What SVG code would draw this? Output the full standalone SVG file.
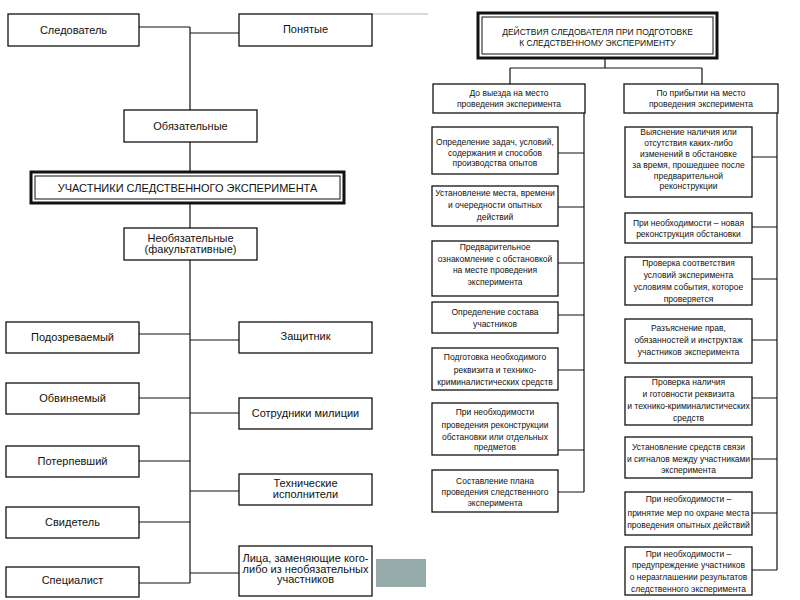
<svg xmlns="http://www.w3.org/2000/svg" width="800" height="600" viewBox="0 0 800 600">
<style>
rect.b{fill:#fff;stroke:#111;stroke-width:1.3}
rect.thick{fill:#fff;stroke:#111;stroke-width:3}
rect.inner{fill:none;stroke:#111;stroke-width:1}
text{font-family:"Liberation Sans",Arial,sans-serif;fill:#111;text-anchor:middle}
.l{font-size:11px}
.r{font-size:8.5px}
#connectors path{fill:none;stroke:#111;stroke-width:1.2}
</style>
<rect width="800" height="600" fill="#fff"/>
<line x1="372" y1="14" x2="428" y2="14" stroke="#b5b5b5" stroke-width="1"/>
<rect x="376" y="559" width="50" height="28" fill="#95acaa"/>

<g id="connectors">
<!-- left -->
<path d="M139,27 H190 M190,33 H239 M190,27 V110 M190,142 V172 M190,203 V228 M190,260 V583"/>
<path d="M139,334 H190 M190,340 H239 M139,398 H190 M190,413 H239 M139,461 H190 M190,491 H239 M139,522 H190 M139,583 H190 M190,573 H239"/>
<!-- right -->
<path d="M605,58 V68 M510,68 H702 M510,68 V84 M702,68 V84"/>
<path d="M584,113 V492 M558,153 H584 M558,207 H584 M558,263 H584 M558,315 H584 M558,370 H584 M558,450 H584 M558,492 H584"/>
<path d="M777,113 V570 M752,157 H777 M752,227 H777 M752,279 H777 M752,340 H777 M752,398 H777 M752,459 H777 M752,513 H777 M752,570 H777"/>
</g>

<g id="sledovatel"><rect class="b" x="8" y="14" width="131" height="32"/><text class="l" x="73.5" y="34">Следователь</text></g>
<g id="ponyatye"><rect class="b" x="239" y="14" width="133" height="32"/><text class="l" x="305.5" y="33">Понятые</text></g>
<g id="obyazatelnye"><rect class="b" x="124" y="110" width="133" height="32"/><text class="l" x="190.5" y="130">Обязательные</text></g>
<g id="uchastniki"><rect class="thick" x="31" y="172" width="313" height="31"/><rect class="inner" x="35" y="176" width="305" height="23"/><text class="l" x="187.5" y="191.5">УЧАСТНИКИ СЛЕДСТВЕННОГО ЭКСПЕРИМЕНТА</text></g>
<g id="neobyazatelnye"><rect class="b" x="124" y="228" width="133" height="32"/><text class="l" x="190.5" y="242">Необязательные</text><text class="l" x="190.5" y="253">(факультативные)</text></g>

<g id="podozrevaemy"><rect class="b" x="6" y="322" width="133" height="31"/><text class="l" x="72.5" y="341">Подозреваемый</text></g>
<g id="obvinyaemy"><rect class="b" x="6" y="383" width="133" height="31"/><text class="l" x="72.5" y="402">Обвиняемый</text></g>
<g id="poterpevshy"><rect class="b" x="6" y="446" width="133" height="31"/><text class="l" x="72.5" y="465">Потерпевший</text></g>
<g id="svidetel"><rect class="b" x="6" y="507" width="133" height="31"/><text class="l" x="72.5" y="526">Свидетель</text></g>
<g id="specialist"><rect class="b" x="6" y="567" width="133" height="30"/><text class="l" x="72.5" y="584">Специалист</text></g>

<g id="zashchitnik"><rect class="b" x="239" y="322" width="133" height="31"/><text class="l" x="305.5" y="340">Защитник</text></g>
<g id="sotrudniki"><rect class="b" x="239" y="398" width="133" height="31"/><text class="l" x="305.5" y="417">Сотрудники милиции</text></g>
<g id="tekhnicheskie"><rect class="b" x="239" y="474" width="133" height="31"/><text class="l" x="305.5" y="487">Технические</text><text class="l" x="305.5" y="498">исполнители</text></g>
<g id="litsa"><rect class="b" x="239" y="546" width="133" height="50"/><text class="l" x="305.5" y="562">Лица, заменяющие кого-</text><text class="l" x="305.5" y="572.5">либо из необязательных</text><text class="l" x="305.5" y="583">участников</text></g>

<g id="title"><rect class="thick" x="478" y="13" width="239" height="45"/><rect class="inner" x="482" y="17" width="231" height="37"/><text class="r" x="597.5" y="35">ДЕЙСТВИЯ СЛЕДОВАТЕЛЯ ПРИ ПОДГОТОВКЕ</text><text class="r" x="597.5" y="46">К СЛЕДСТВЕННОМУ ЭКСПЕРИМЕНТУ</text></g>
<g id="do-vyezda"><rect class="b" x="433" y="84" width="152" height="29"/><text class="r" x="509" y="96">До выезда на место</text><text class="r" x="509" y="107">проведения эксперимента</text></g>
<g id="po-pribytii"><rect class="b" x="624" y="84" width="154" height="29"/><text class="r" x="701" y="96">По прибытии на место</text><text class="r" x="701" y="107">проведения эксперимента</text></g>

<g id="l1"><rect class="b" x="432" y="127" width="126" height="47"/><text class="r" x="495" y="145">Определение задач, условий,</text><text class="r" x="495" y="155.5">содержания и способов</text><text class="r" x="495" y="166">производства опытов</text></g>
<g id="l2"><rect class="b" x="432" y="186" width="126" height="40"/><text class="r" x="495" y="196">Установление места, времени</text><text class="r" x="495" y="208">и очередности опытных</text><text class="r" x="495" y="219.5">действий</text></g>
<g id="l3"><rect class="b" x="432" y="241" width="126" height="55"/><text class="r" x="495" y="250">Предварительное</text><text class="r" x="495" y="261.5">ознакомление с обстановкой</text><text class="r" x="495" y="273">на месте проведения</text><text class="r" x="495" y="285">эксперимента</text></g>
<g id="l4"><rect class="b" x="432" y="302" width="126" height="31"/><text class="r" x="495" y="315">Определение состава</text><text class="r" x="495" y="327">участников</text></g>
<g id="l5"><rect class="b" x="432" y="348" width="126" height="42"/><text class="r" x="495" y="360">Подготовка необходимого</text><text class="r" x="495" y="372.5">реквизита и технико-</text><text class="r" x="495" y="384.5">криминалистических средств</text></g>
<g id="l6"><rect class="b" x="432" y="403" width="126" height="52"/><text class="r" x="495" y="415">При необходимости</text><text class="r" x="495" y="428">проведения реконструкции</text><text class="r" x="495" y="439.5">обстановки или отдельных</text><text class="r" x="495" y="450">предметов</text></g>
<g id="l7"><rect class="b" x="432" y="470" width="126" height="42"/><text class="r" x="495" y="483.5">Составление плана</text><text class="r" x="495" y="495">проведения следственного</text><text class="r" x="495" y="505.5">эксперимента</text></g>

<g id="r1"><rect class="b" x="625" y="127" width="127" height="70"/><text class="r" x="688.5" y="135">Выяснение наличия или</text><text class="r" x="688.5" y="146">отсутствия каких-либо</text><text class="r" x="688.5" y="157">изменений в обстановке</text><text class="r" x="688.5" y="168">за время, прошедшее после</text><text class="r" x="688.5" y="178.5">предварительной</text><text class="r" x="688.5" y="189">реконструкции</text></g>
<g id="r2"><rect class="b" x="625" y="213" width="127" height="30"/><text class="r" x="688.5" y="225.5">При необходимости – новая</text><text class="r" x="688.5" y="236.5">реконструкция обстановки</text></g>
<g id="r3"><rect class="b" x="625" y="257" width="127" height="48"/><text class="r" x="688.5" y="266">Проверка соответствия</text><text class="r" x="688.5" y="278">условий эксперимента</text><text class="r" x="688.5" y="290">условиям события, которое</text><text class="r" x="688.5" y="301.5">проверяется</text></g>
<g id="r4"><rect class="b" x="625" y="319" width="127" height="44"/><text class="r" x="688.5" y="330.5">Разъяснение прав,</text><text class="r" x="688.5" y="343">обязанностей и инструктаж</text><text class="r" x="688.5" y="355">участников эксперимента</text></g>
<g id="r5"><rect class="b" x="625" y="377" width="127" height="48"/><text class="r" x="688.5" y="385">Проверка наличия</text><text class="r" x="688.5" y="397">и готовности реквизита</text><text class="r" x="688.5" y="409">и технико-криминалистических</text><text class="r" x="688.5" y="420.5">средств</text></g>
<g id="r6"><rect class="b" x="625" y="437" width="127" height="41"/><text class="r" x="688.5" y="449.5">Установление средств связи</text><text class="r" x="688.5" y="462">и сигналов между участниками</text><text class="r" x="688.5" y="472.5">эксперимента</text></g>
<g id="r7"><rect class="b" x="625" y="492" width="127" height="43"/><text class="r" x="688.5" y="502">При необходимости –</text><text class="r" x="688.5" y="516">принятие мер по охране места</text><text class="r" x="688.5" y="528">проведения опытных действий</text></g>
<g id="r8"><rect class="b" x="625" y="547" width="127" height="48"/><text class="r" x="688.5" y="557">При необходимости –</text><text class="r" x="688.5" y="568">предупреждение участников</text><text class="r" x="688.5" y="580">о неразглашении результатов</text><text class="r" x="688.5" y="591.5">следственного эксперимента</text></g>
</svg>
